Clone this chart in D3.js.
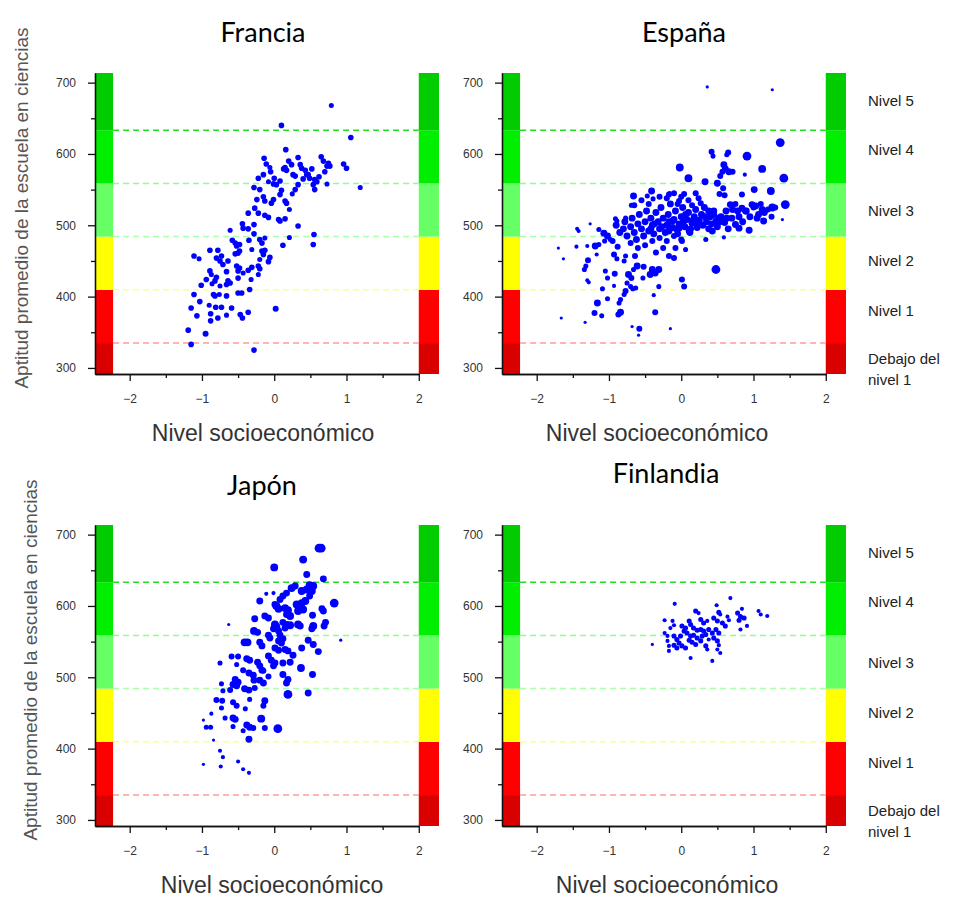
<!DOCTYPE html>
<html><head><meta charset="utf-8">
<style>
body { margin: 0; background: #fff; }
svg { display: block; }
.tick text { font: 12px "Liberation Sans", Arial, sans-serif; fill: #333; }
.axis path, .axis line { stroke: #111; }
</style></head>
<body>
<script src="https://cdn.jsdelivr.net/npm/d3@7"></script>
<script>

// PISA science proficiency cut scores and their bands
var levelCuts = [334.9, 409.5, 484.1, 558.7, 633.3];
var levelNames = [["Debajo del", "nivel 1"], ["Nivel 1"], ["Nivel 2"], ["Nivel 3"], ["Nivel 4"], ["Nivel 5"]];
var levelLabelAt = [312, 380, 450, 520, 605, 674];
var xTicks = [-2, -1, 0, 1, 2];
var xMinor = [-1.5, -0.5, 0.5, 1.5];
var yTicks = [300, 400, 500, 600, 700];
var yMinor = [350, 450, 550, 650];

// schools: [socioeconomic index, mean science score, school size]
var francia = [
  [0.79,668,2],[0.10,640,2.3],[1.06,623,2.3],[0.16,606,2.3],[-0.14,594,2.3],[0.33,595,2.3],[0.65,596,2.3],
  [-0.11,586,2.3],[-0.06,581,2],[0.13,579,2.3],[0.15,581,2.3],[0.17,577,2.3],[0.24,585,2.3],[0.36,585,2.3],
  [0.26,571,2.3],[0.29,569,2.3],[0.43,577,2.3],[0.45,571,2.3],[0.52,579,2.3],[0.68,590,2.3],[0.75,587,2.3],
  [0.77,583,2.3],[0.73,583,2.3],[0.96,586,2.3],[1.00,580,2.3],[1.19,553,2],[0.73,558,2],[0.56,564,2.3],
  [0.59,561,2.3],[0.54,557,2.3],[0.56,550,2.3],[0.49,566,2.3],[0.47,571,2.3],[-0.22,566,2.3],[-0.15,571,2.3],
  [-0.08,561,2],[-0.01,558,2.3],[0.03,557,2.3],[0.08,562,2.3],[-0.28,553,2.3],[-0.20,550,2.3],[0.10,549,2.3],
  [0.29,550,2.3],[0.33,557,2.3],[-0.15,540,2.3],[-0.13,534,2.3],[-0.04,531,2.3],[-0.01,536,2.3],[-0.24,536,2.3],
  [0.15,534,2.3],[0.17,531,2.3],[0.08,543,2.3],[0.25,544,2],[-0.27,524,2.3],[-0.22,517,2.3],[-0.36,517,2.3],
  [-0.13,514,2.3],[-0.08,511,2.3],[0.21,522,2],[0.06,508,2.3],[0.08,506,2.3],[0.15,509,2.3],[-0.44,502,2.3],
  [-0.43,496,2.3],[-0.36,495,2.3],[-0.28,501,2.3],[-0.61,493,2],[0.33,499,2.3],[-0.28,488,2.3],[0.21,483,2],
  [0.55,487,2.3],[0.54,473,2.3],[0.12,472,2.3],[-0.58,479,2.3],[-0.54,475,2.3],[-0.52,471,2.3],[-0.48,473,2.3],
  [-0.35,479,2.3],[-0.20,480,2.3],[-0.17,475,2.3],[-0.13,482,2],[-0.89,465,2.3],[-0.78,465,2.3],[-1.11,457,2.3],
  [-1.04,453,2],[-0.80,454,2.3],[-0.73,457,2.3],[-0.75,450,2.3],[-0.71,445,2.3],[-0.64,450,2.3],[-0.54,460,2.3],
  [-0.50,461,2.3],[-0.48,464,2.3],[-0.31,466,2],[-0.17,464,2.3],[-0.13,465,2.3],[-0.15,459,2.3],[-0.06,455,2.3],
  [-0.08,449,2.3],[-0.20,452,2],[-0.89,436,2.3],[-0.87,431,2],[-0.66,435,2.3],[-0.52,443,2.3],[-0.48,440,2.3],
  [-0.50,436,2.3],[-0.36,437,2.3],[-0.31,441,2.3],[-0.22,443,2.3],[-0.20,439,2.3],[-0.43,433,2],[-0.94,424,2.3],
  [-0.82,422,2.3],[-0.80,427,2.3],[-0.64,422,2.3],[-0.66,417,2.3],[-0.61,419,2.3],[-0.50,426,2.3],[-0.32,424,2],
  [-0.22,431,2],[-1.01,416,2.3],[-0.86,418,2],[-0.75,415,2],[-0.34,410,2.3],[-1.11,403,2.3],[-0.84,403,2.3],
  [-0.82,401,2.3],[-0.76,403,2],[-0.66,401,2.3],[-0.50,405,2.3],[-0.45,405,2.3],[-1.03,393,2.3],[-0.90,388,2],
  [-1.15,384,2.3],[-0.81,385,2.3],[-0.73,385,2.3],[-0.59,384,2.3],[0.02,383,2.5],[-0.88,376,2.3],[-0.88,366,2.3],
  [-1.07,373,2.3],[-0.78,370,2.3],[-0.66,374,2],[-0.47,375,2.3],[-0.44,370,2.3],[-0.36,378,2.3],[-1.19,353,2.3],
  [-0.95,348,2.5],[-1.15,333,2.3],[-0.28,325,2.3],[0.40,565,2.3],[0.62,568,2.3],[0.70,575,2.3],[0.38,580,2.3],
  [0.20,590,2.3],[0.00,566,2.3],[-0.05,575,2.3]
];

var espana = [
  [-0.66,541,3],[-0.41,548,3],[-0.47,541,2],[-0.39,537,2],[-0.69,528,2],[-0.16,545,1.5],[-0.91,509,2],
  [-0.89,506,2],[-0.77,510,2],[-1.26,502,1],[-1.44,495,1.5],[-1.42,492,1.5],[-1.14,494,2],[-1.07,489,3],
  [-1.02,485,3],[-1.06,478,2],[-0.98,480,2],[-1.19,471,3],[-1.14,473,2],[-1.70,468,1],[-1.45,470,1.5],
  [-1.30,471,1.5],[-1.17,459,1.5],[-1.63,453,1],[-1.29,451,2.5],[-1.32,443,2],[-1.34,438,2],[-0.93,459,2.5],
  [-0.89,453,2],[-0.77,457,2],[-0.79,450,2],[-0.64,457,2.5],[-0.61,443,3],[-0.66,438,2],[-0.52,442,2.5],
  [-0.40,438,3],[-0.36,433,3],[-0.31,438,3],[-0.43,431,3],[-1.05,436,2],[-1.02,426,2],[-0.92,432,2.5],
  [-1.30,423,1.5],[-1.28,420,1.5],[-0.73,431,3],[-0.69,426,2.5],[-0.75,419,2],[-0.53,426,2],[-1.09,411,2],
  [-0.93,415,1.5],[-0.70,414,2],[-0.67,411,2],[-0.63,412,2],[-0.31,414,2],[0.01,424,2.5],[0.04,414,2.5],
  [-0.77,408,2.5],[-0.79,403,2],[-1.02,397,2],[-1.16,391,3],[-0.84,396,2],[-0.86,391,2],[-0.38,402,1.5],
  [-1.20,377,2.5],[-1.10,373,2],[-0.84,378,3],[-0.87,375,2.5],[-0.36,378,2.5],[-1.66,370,1],[-1.33,364,1],
  [-0.68,358,1],[-0.58,355,2.5],[-0.15,355,1],[-0.59,346,1],
  [0.36,694,1],[1.26,690,1],[1.37,616,4],[0.42,603,2.5],[0.44,597,2],[0.65,602,2.5],[0.63,599,2],[0.91,597,4],
  [-0.02,581,3.5],[0.59,585,3],[0.61,579,3],[0.66,575,3],[0.71,575,2.5],[0.57,575,2.5],[1.12,579,3.5],
  [0.88,571,1.5],[0.10,566,3.5],[0.54,569,2.5],[0.50,559,3],[0.33,561,3],[1.42,566,4],[0.58,552,2.5],
  [1.01,550,3],[1.24,548,3.5],[0.53,544,2.5],[0.60,542,2.5],[0.84,543,2.5],[0.04,544,2.5],[-0.03,534,2.5],
  [-0.17,543,2.5],[0.24,538,2.5],[0.27,531,2.5],[1.44,529,4],[1.26,525,3.5],[0.68,529,3],[0.71,522,3],
  [0.78,520,3],[0.84,524,3],[0.89,520,3],[0.98,529,3],[1.03,527,3],[1.12,522,3],[1.07,515,3],[1.14,506,3],
  [1.40,508,1],[0.38,520,3],[0.45,515,3],[0.52,510,3],[0.48,506,3],[0.57,506,3],[0.75,501,3],[0.80,496,3],
  [0.94,493,3],[0.59,483,1.5],[0.34,480,2],[0.06,515,3],[0.15,506,3],[0.24,501,3],[0.11,492,3],[-0.03,496,3],
  [-0.12,506,3],[-0.17,492,3],[0.01,478,2.5],[-0.08,468,2.5],[0.06,466,2],[0.48,438,4],[-0.17,457,2.5],
  [-0.10,454,2.5],
  [-0.90,500,3],[-0.85,490,3],[-0.80,495,3],[-0.78,505,3],[-0.75,485,3],[-0.70,498,3],[-0.68,510,3],
  [-0.65,490,3],[-0.62,480,3],[-0.60,502,3],[-0.58,515,3],[-0.55,495,3],[-0.52,485,3],[-0.50,505,3],
  [-0.48,520,3],[-0.45,492,3],[-0.42,510,3],[-0.40,500,3],[-0.38,488,3],[-0.35,518,3],[-0.32,505,3],
  [-0.30,495,3],[-0.28,525,3],[-0.25,510,3],[-0.22,490,3],[-0.20,500,3],[-0.18,515,3],[-0.15,530,3],
  [-0.12,497,3],[-0.10,508,3],[-0.08,520,3],[-0.05,488,3],[-0.03,502,3],[0.00,512,3],[0.02,525,3],
  [0.05,498,3],[0.08,508,3],[0.10,518,3],[0.12,490,3],[0.15,503,3],[0.18,512,3],[0.20,522,3],[0.22,497,3],
  [0.25,507,3],[0.28,515,3],[0.30,500,3],[0.32,525,3],[0.35,505,3],[0.38,495,3],[0.40,512,3],[0.42,502,3],
  [0.45,520,3],[0.50,498,3],[0.55,512,3],[0.60,504,3],[0.62,520,3],[0.65,495,3],[0.70,510,3],[0.75,530,2.5],
  [0.80,512,3],[0.85,505,3],[0.90,520,3],[0.95,512,3],[1.00,525,2.5],[1.05,510,3],[1.10,530,2.5],
  [1.15,518,3],[1.20,522,2.5],[1.25,512,2.5],[1.30,525,2.5],
  [-0.95,478,2.5],[-0.88,470,2.5],[-0.70,475,2.5],[-0.60,468,2.5],[-0.50,472,2.5],[-0.40,478,2.5],
  [-0.30,482,2.5],[-0.20,478,2.5],[-0.10,485,2.5],[0.00,480,2.5],[-0.35,462,2.5],[-0.25,468,2.5],
  [-0.45,530,2.5],[-0.55,535,2.5],[-0.65,528,2.5],[-0.30,540,2.5],[-0.20,538,2.5],[-0.10,545,2.5],
  [0.00,540,2.5],[0.10,535,2.5],[0.20,545,2.5],[0.15,528,2.5],[-0.05,530,2.5],[-0.42,495,3],[-0.37,502,3],
  [-0.27,498,3],[-0.17,505,3],[-0.07,495,3],[0.03,505,3],[0.13,495,3],[0.23,505,3],[0.33,512,3],
  [0.43,492,3],[0.53,505,3],[0.63,510,3]
];

var japon = [
  [0.65,681,4],[0.62,681,4],[0.40,665,3.5],[0.00,654,3.5],[0.45,644,3],[0.68,638,3],[0.24,625,3.5],
  [0.29,628,3],[0.38,621,3.5],[0.45,623,3.5],[0.49,629,3.5],[0.54,628,3.5],[0.52,621,3.5],[0.49,614,3],
  [-0.01,618,1.5],[-0.11,617,1.5],[0.12,614,3],[0.17,618,3],[0.08,609,3],[-0.20,607,3],[0.03,600,3.5],
  [0.06,596,3.5],[0.01,602,3],[0.15,597,3.5],[0.19,594,3.5],[0.17,588,3],[0.22,586,3.5],[0.31,602,3.5],
  [0.36,598,3.5],[0.40,595,3.5],[0.38,604,3.5],[0.43,607,3.5],[0.33,593,3.5],[0.66,596,3],[0.68,593,3],
  [0.83,604,4],[0.53,587,3],[-0.27,582,3],[-0.13,586,3],[-0.08,583,3],[0.01,574,3.5],[0.03,571,3.5],
  [-0.01,568,3],[0.06,565,3],[0.12,577,3],[0.17,574,3],[0.15,569,3],[0.22,573,3.5],[0.33,574,3.5],
  [0.36,572,3],[0.54,572,3.5],[0.52,568,3],[0.71,577,3],[0.69,572,3],[-0.28,565,3.5],[-0.23,563,3],
  [-0.63,574,1],[-0.08,559,3],[-0.06,555,3],[0.08,559,3],[0.12,554,3],[0.06,551,3],[0.10,548,3],
  [-0.20,549,3],[-0.17,544,3],[-0.41,549,3.5],[-0.37,549,3.5],[0.47,552,3],[0.54,546,3],[0.92,552,1],
  [0.38,541,3],[0.01,541,3],[0.06,538,3],[0.15,539,3],[0.19,537,3],[0.61,536,3],[-0.59,529,2.5],
  [-0.50,529,2.5],[-0.38,526,3],[-0.34,524,3],[-0.08,530,3],[-0.04,524,3],[0.01,520,3],[-0.01,516,3],
  [0.26,531,3],[-0.23,521,3],[-0.20,516,3],[-0.17,510,3],[0.12,520,3],[0.22,521,3],[-0.75,520,2],
  [-0.52,518,2],[0.37,513,3.5],[-0.43,510,2.5],[-0.35,506,3],[-0.29,503,3],[-0.15,509,2.5],[0.53,504,3],
  [-0.08,501,2.5],[0.12,504,3],[0.19,497,3],[0.17,492,3],[-0.54,497,3],[-0.50,493,3],[-0.57,490,3],
  [-0.52,488,3],[-0.73,491,2],[-0.71,481,2],[-0.28,496,3],[-0.20,496,3],[-0.15,492,3],[-0.41,484,3],
  [-0.35,482,3],[-0.27,485,2.5],[-0.61,482,2.5],[0.19,476,4],[0.47,478,3],[-0.80,468,2.5],[-0.72,467,2.5],
  [-0.57,465,2.5],[-0.52,460,2.5],[-0.34,469,2],[-0.13,467,3],[-0.15,460,2.5],[-0.73,457,2],[-0.40,456,2],
  [-0.87,449,1.5],[-0.68,443,2],[-0.57,443,3],[-0.54,441,3],[-0.18,442,3.5],[-0.98,440,1],[-0.57,431,2],
  [-0.38,433,3],[-0.34,430,3],[-0.29,429,2.5],[-0.13,429,2.5],[0.05,428,4],[-0.94,430,2],[-0.88,430,2],
  [-0.43,425,2],[-0.35,413,3],[-0.84,412,1],[-0.75,397,1.5],[-0.71,388,1.5],[-0.98,378,1],[-0.74,375,1.5],
  [-0.50,382,1.5],[-0.43,371,1.5],[-0.35,366,1.5]
];

var finlandia = [
  [0.68,611,1.5],[-0.09,603,1.5],[0.49,601,1.5],[0.20,593,2],[0.24,590,1.5],[0.52,591,2],[0.54,588,1.5],
  [0.84,596,1.5],[0.78,590,2],[0.82,585,2],[0.87,583,2],[0.80,580,2],[1.07,593,1.5],[1.10,588,1.5],
  [1.19,586,1.5],[0.64,585,1.5],[0.66,580,1.5],[-0.23,580,1.5],[-0.12,579,1.5],[-0.10,573,1.5],
  [-0.15,569,1.5],[0.11,579,2],[0.13,574,2],[0.27,581,2],[0.31,576,2],[0.36,579,1.5],[0.45,583,2],
  [0.50,579,2],[0.57,576,2],[0.61,572,2],[0.91,572,1.5],[0.01,572,2],[0.06,569,2],[0.04,565,2],
  [0.17,569,2],[0.22,566,2],[0.27,567,2],[0.31,565,2],[0.38,567,2],[0.43,562,2],[0.48,567,2],[0.52,562,2],
  [0.82,567,1.5],[-0.23,562,1.5],[-0.19,558,1.5],[-0.10,558,2],[-0.06,553,2],[-0.01,558,2],[-0.03,548,2],
  [0.08,562,2],[0.13,558,2],[0.17,559,2],[0.22,555,2],[0.11,552,2],[0.15,549,2],[0.20,546,2],[0.27,551,2],
  [0.29,558,2],[0.34,560,2],[0.38,553,1.5],[0.45,555,2],[0.50,551,2],[0.52,545,1.5],[0.01,544,2],
  [0.06,541,2],[-0.06,541,2],[-0.10,545,2],[-0.19,551,1.5],[-0.17,544,1.5],[-0.40,546,1],[0.34,544,2],
  [0.36,539,1.5],[0.50,539,1.5],[0.54,534,1.5],[-0.17,537,1.5],[0.13,527,1.5],[0.43,523,1.5]
];

var bandColors = ["#d90000", "#ff0000", "#ffff00", "#66ff66", "#00ee00", "#00cc00"];
var lineColors = ["#ff9a9a", "#ffff80", "#aaffaa", "#8cff8c", "#22dd22"];

var panels = [
  {name: "Francia",   data: francia,   left: 95,  top: 73,  tx: 263, ty: 42,  lx: 263, levels: false, ylab: 22},
  {name: "España",    data: espana,    left: 502, top: 73,  tx: 684, ty: 42,  lx: 657, levels: true},
  {name: "Japón",     data: japon,     left: 95,  top: 525, tx: 262, ty: 495, lx: 272, levels: false, ylab: 31},
  {name: "Finlandia", data: finlandia, left: 502, top: 525, tx: 666, ty: 483, lx: 667, levels: true}
];

var pw = 344, ph = 301;
var svg = d3.select("body").append("svg").attr("width", 954).attr("height", 897);

svg.append("defs").append("filter").attr("id", "soft")
  .append("feGaussianBlur").attr("stdDeviation", 0.45);

var r = d3.scaleLinear().domain([1, 4]).range([1.6, 4.4]);

panels.forEach(function(p) {
  var x = d3.scaleLinear().domain([-2.48, 2.28]).range([p.left, p.left + pw]);
  var y = d3.scaleLinear().domain([291.5, 713.5]).range([p.top + ph, p.top]);
  var edges = [y.domain()[0]].concat(levelCuts, [y.domain()[1]]);
  var g = svg.append("g");

  // coloured bands at both sides
  [[-2.48, -2.23], [2, 2.28]].forEach(function(side) {
    g.selectAll(null).data(bandColors).enter().append("rect")
      .attr("x", x(side[0]))
      .attr("width", x(side[1]) - x(side[0]))
      .attr("y", function(d, i) { return y(edges[i + 1]); })
      .attr("height", function(d, i) { return y(edges[i]) - y(edges[i + 1]); })
      .attr("fill", function(d) { return d; });
  });

  g.selectAll(null).data(levelCuts).enter().append("line")
    .attr("x1", x(-2.23)).attr("x2", x(2))
    .attr("y1", function(d) { return y(d); }).attr("y2", function(d) { return y(d); })
    .attr("stroke", function(d, i) { return lineColors[i]; })
    .attr("stroke-width", 1.5)
    .attr("stroke-dasharray", "6,4");

  g.append("g").attr("filter", "url(#soft)")
    .selectAll(null).data(p.data).enter().append("circle")
    .attr("cx", function(d) { return x(d[0]); })
    .attr("cy", function(d) { return y(d[1]); })
    .attr("r", function(d) { return r(d[2]); })
    .attr("fill", "#0000ff");

  // axes
  var xa = x.copy().domain([-2.48, 2]).range([p.left, x(2)]);
  g.append("g").attr("class", "axis")
    .attr("transform", "translate(0," + (p.top + ph) + ")")
    .call(d3.axisBottom(xa).tickValues(xTicks).tickSize(7).tickSizeOuter(0).tickPadding(13)
      .tickFormat(d3.format("d")));
  g.append("g").attr("class", "axis")
    .attr("transform", "translate(0," + (p.top + ph) + ")")
    .call(d3.axisBottom(xa).tickValues(xMinor).tickSize(4).tickSizeOuter(0).tickFormat(""));
  g.append("g").attr("class", "axis")
    .attr("transform", "translate(" + p.left + ",0)")
    .call(d3.axisLeft(y).tickValues(yTicks).tickSize(7).tickSizeOuter(0).tickPadding(12));
  g.append("g").attr("class", "axis")
    .attr("transform", "translate(" + p.left + ",0)")
    .call(d3.axisLeft(y).tickValues(yMinor).tickSize(4).tickSizeOuter(0).tickFormat(""));
  g.selectAll(".axis .tick text").attr("fill", "#333");
  g.selectAll(".axis path, .axis line").attr("stroke", "#111").attr("stroke-width", 1.3);

  g.append("text")
    .attr("x", p.tx).attr("y", p.ty)
    .attr("text-anchor", "middle")
    .style("font", "27px Lato, 'Open Sans', sans-serif")
    .attr("fill", "#000")
    .text(p.name);

  g.append("text")
    .attr("x", p.lx).attr("y", p.top + ph + 67)
    .attr("text-anchor", "middle")
    .style("font", "23px 'Liberation Sans', Arial, sans-serif")
    .attr("fill", "#333")
    .text("Nivel socioeconómico");

  if (p.ylab) {
    g.append("text")
      .attr("transform", "translate(" + (p.ylab + 6) + "," + (p.top + 135) + ") rotate(-90)")
      .attr("text-anchor", "middle")
      .style("font", "19px 'Liberation Sans', Arial, sans-serif")
      .attr("fill", "#555")
      .text("Aptitud promedio de la escuela en ciencias");
  }

  if (p.levels) {
    levelNames.forEach(function(lines, i) {
      var t = g.append("text")
        .attr("x", p.left + pw + 22)
        .attr("y", y(levelLabelAt[i]) + 5)
        .style("font", "15px 'Liberation Sans', Arial, sans-serif")
        .attr("fill", "#222");
      lines.forEach(function(s, k) {
        t.append("tspan").attr("x", p.left + pw + 22).attr("dy", k ? 21 : 0).text(s);
      });
    });
  }
});

</script>
</body></html>
